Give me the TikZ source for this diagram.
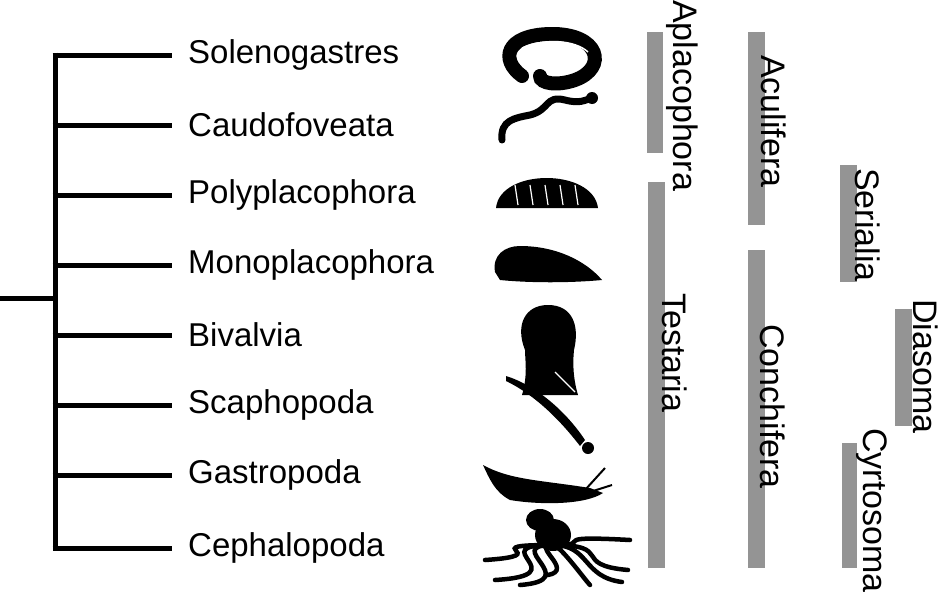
\documentclass[tikz,border=0pt]{standalone}
\usepackage{fontspec}
\setmainfont{Liberation Sans}
\begin{document}
\begin{tikzpicture}[x=1pt,y=-1pt,
  br/.style={line width=5pt},
  tax/.style={anchor=west,font=\fontsize{33}{34}\selectfont,inner sep=0pt},
  bar/.style={fill=black!42},
  blab/.style={rotate=-90,anchor=south west,font=\fontsize{34}{35}\selectfont,inner sep=0pt},
  sil/.style={line width=14pt,line cap=round}]
\useasboundingbox (0,0) rectangle (950,592);
% tree
\coordinate (root) at (0,298);
\coordinate (bot) at (55,548);
\draw[br] (55,52.5) -- (bot);
\draw[br] (root) -- (55,298);
\foreach \n/\t/\y in {a/Solenogastres/55,b/Caudofoveata/125,c/Polyplacophora/195,d/Monoplacophora/265,e/Bivalvia/335,f/Scaphopoda/405,g/Gastropoda/475,h/Cephalopoda/548}{
  \node[tax] (\n) at (188,\y) {\t};
  \coordinate (\n b) at (172,\y);
  \draw[br] (52.5,\y) -- (\n b);
}
% bars
\fill[bar] (647,32) rectangle (663,153);
\node[blab] (apl) at (666,0) {Aplacophora};
\fill[bar] (648,182) rectangle (665,568);
\node[blab] (tes) at (662,293) {Testaria};
\fill[bar] (748,32) rectangle (765,225);
\node[blab] (acu) at (761,55) {Aculifera};
\fill[bar] (748,250) rectangle (765,568);
\node[blab] (con) at (760,324) {Conchifera};
\fill[bar] (840,165) rectangle (857,282);
\node[blab] (ser) at (855,168) {Serialia};
\fill[bar] (895,309) rectangle (912,426);
\node[blab] (dia) at (913,299) {Diasoma};
\fill[bar] (842,443) rectangle (857,568);
\node[blab] (cyt) at (856,428) {Cyrtosoma};
% silhouettes
\draw[sil] (522,76) .. controls (500,60) and (505,35) .. (550,34) .. controls (600,33) and (608,68) .. (575,80) .. controls (558,86) and (540,84) .. (540,76);
\draw[white,line width=1.5pt] (522,48) .. controls (545,38) and (575,40) .. (588,52);
\draw[line width=7pt,line cap=round] (502,140) .. controls (500,120) and (515,118) .. (530,115) .. controls (550,110) and (545,95) .. (565,100) .. controls (580,104) and (585,100) .. (592,98);
\fill (592,98) circle (6);
\fill (496,208) .. controls (500,168) and (593,168) .. (598,208) -- cycle;
\foreach \x in {515,530,545,560,575}{\draw[white,line width=1.2pt] (\x,185) -- (\x+3,205);}
\fill (495,272) .. controls (492,255) and (505,246) .. (520,246) .. controls (555,246) and (585,260) .. (602,280) .. controls (570,283) and (530,283) .. (500,280) -- cycle;
\fill (522,395) .. controls (528,375) and (525,360) .. (525,350) .. controls (515,325) and (525,305) .. (548,305) .. controls (572,305) and (580,325) .. (574,350) .. controls (572,370) and (575,385) .. (578,395) -- cycle;
\draw[white,line width=1.2pt] (555,372) -- (575,392);
\fill (506,376) .. controls (535,385) and (565,410) .. (585,440) -- (580,446) .. controls (560,420) and (535,395) .. (506,381) -- cycle;
\fill (588,448) circle (6);
\fill (483,465) .. controls (510,480) and (540,480) .. (590,488) -- (603,493) .. controls (585,505) and (540,505) .. (510,500) .. controls (495,492) and (490,480) .. (483,465) -- cycle;
\draw[line width=2pt] (585,490) -- (605,468);
\draw[line width=2pt] (590,492) -- (612,485);
\fill (553,535) ellipse (18 and 16);
\fill (540,520) ellipse (14 and 11);
\foreach \a/\b/\c in {480/580/495,500/585/520,560/585/590,590/582/622,615/570/628,470/560/485,530/575/548,600/540/630}{
  \draw[line width=4.5pt,line cap=round] (553,545) .. controls (\a,545) and (\b,\b-5) .. (\c,\b);}
\end{tikzpicture}
\end{document}
